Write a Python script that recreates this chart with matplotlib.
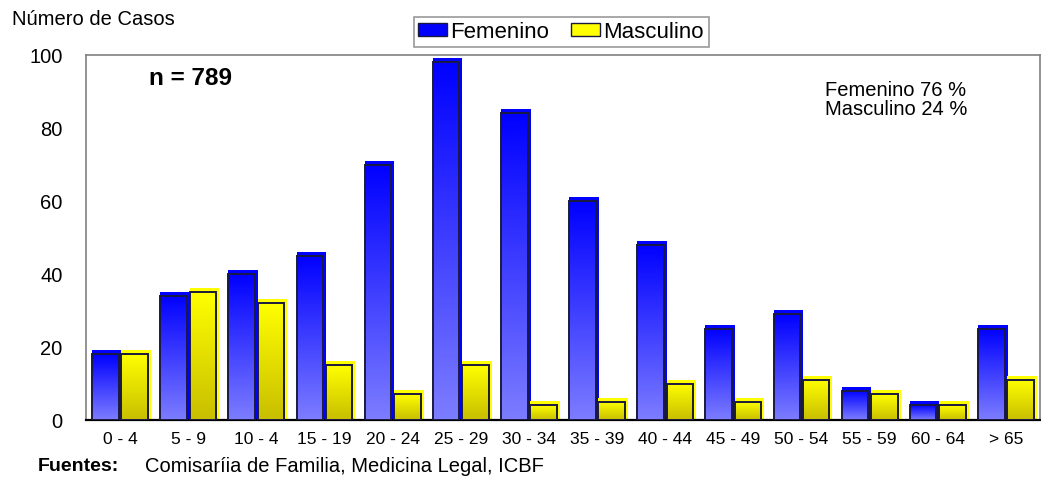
import numpy as np
import matplotlib
matplotlib.use('Agg')
import matplotlib.pyplot as plt
from matplotlib.patches import Patch

plt.rcParams['font.family'] = ['Liberation Sans', 'DejaVu Sans']

# datos
grupos = ['0 - 4', '5 - 9', '10 - 4', '15 - 19', '20 - 24', '25 - 29', '30 - 34',
          '35 - 39', '40 - 44', '45 - 49', '50 - 54', '55 - 59', '60 - 64', '> 65']
femenino = [18, 34, 40, 45, 70, 98, 84, 60, 48, 25, 29, 8, 4, 25]
masculino = [18, 35, 32, 15, 7, 15, 4, 5, 10, 5, 11, 7, 4, 11]

fig = plt.figure(figsize=(10.41, 4.8), dpi=100)
ax = fig.add_axes([0.0826, 0.125, 0.9164, 0.7604])

x = np.arange(len(grupos))
ancho = 0.39
# offsets en unidades de datos (aprox 3 px a la derecha, 4 px arriba)
dx = 3 / 68.1
dy = 4 / 3.65


def barras_gradiente(pos, vals, top_col, bot_col):
    grad = np.linspace(0, 1, 256)[:, None]
    top_col = np.array(top_col) / 255.0
    bot_col = np.array(bot_col) / 255.0
    img = top_col[None, None, :] * (1 - grad[:, :, None]) + bot_col[None, None, :] * grad[:, :, None]
    for p, v in zip(pos, vals):
        left = p - ancho / 2
        # sombra solida
        ax.bar(left, v + dy, width=ancho + dx, align='edge', color=top_col,
               linewidth=0, zorder=2)
        ax.imshow(img, extent=(left, left + ancho, 0, v), aspect='auto',
                  origin='upper', zorder=3, interpolation='bilinear')
        ax.bar(left, v, width=ancho, align='edge', facecolor='none',
               edgecolor='#1a1a40', linewidth=1.4, zorder=4)


barras_gradiente(x - 0.215, femenino, (0, 0, 255), (125, 125, 255))
barras_gradiente(x + 0.215, masculino, (255, 255, 0), (200, 190, 0))

ax.set_xlim(-0.5, len(grupos) - 0.5)
ax.set_ylim(0, 100)
ax.set_yticks([0, 20, 40, 60, 80, 100])
ax.set_xticks(x)
ax.set_xticklabels(grupos, fontsize=12.5)
ax.tick_params(axis='y', length=0, pad=17, labelsize=14.5)
ax.tick_params(axis='x', length=0, pad=9)

for s in ['left', 'top', 'right']:
    ax.spines[s].set_color('#808080')
    ax.spines[s].set_linewidth(1.2)
ax.spines['bottom'].set_color('black')
ax.spines['bottom'].set_linewidth(1.6)

ax.text(0.066, 0.935, 'n = 789', transform=ax.transAxes, fontsize=17.5,
        fontweight='bold', va='center', ha='left')
ax.text(0.775, 0.877, 'Femenino 76 %\nMasculino 24 %', transform=ax.transAxes,
        fontsize=14.5, va='center', ha='left', linespacing=1.05)

fig.text(0.012, 0.96, 'Número de Casos', fontsize=14.5, va='center', ha='left')

handles = [Patch(facecolor='#0000ff', edgecolor='#1a1a40'),
           Patch(facecolor='#ffff00', edgecolor='#1a1a40')]
leg = fig.legend(handles, ['Femenino', 'Masculino'], loc='center',
                 bbox_to_anchor=(0.539, 0.933), ncol=2, fontsize=16,
                 frameon=True, fancybox=False, handlelength=1.3, handleheight=0.55,
                 handletextpad=0.15, columnspacing=1.0, borderpad=0.2)
leg.get_frame().set_edgecolor('#808080')
leg.get_frame().set_linewidth(1.2)

fig.text(0.036, 0.028, 'Fuentes:', fontsize=14, fontweight='bold', va='center', ha='left')
fig.text(0.139, 0.028, 'Comisaríia de Familia, Medicina Legal, ICBF', fontsize=14.5,
         va='center', ha='left')

fig.savefig('out.png', dpi=100)
